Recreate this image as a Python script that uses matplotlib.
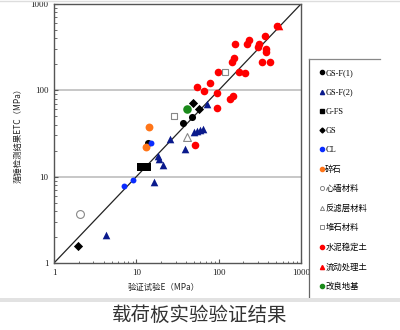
import matplotlib
matplotlib.use("Agg")
import matplotlib.pyplot as plt
from matplotlib.lines import Line2D
from matplotlib.patches import Rectangle

plt.rcParams['font.family'] = ['Liberation Serif', 'Noto Sans CJK SC', 'DejaVu Sans']

# --- data (E from verification test, ETC from drop hammer) ---
gsf1_x = [48, 37, 13.7]
gsf1_y = [48.8, 41.6, 24.3]

gsf2_x = [72, 50, 55, 59, 64, 25.7, 39, 18.5, 19, 21, 16.4, 4.3]
gsf2_y = [70, 33, 33.5, 35, 36, 27, 21, 17.2, 16.1, 13.8, 8.75, 2.11]

gfs_x = [11.4, 13.3]
gfs_y = [13.1, 13.1]

gs_x = [48.6, 58, 1.97]
gs_y = [72, 60, 1.57]

cl_x = [15.1, 9.0, 7.1]
cl_y = [24.3, 9.16, 7.8]

gravel_x = [14.4, 13.1]
gravel_y = [38, 21.8]

core_x = [2.07]
core_y = [3.67]

filter_x = [40.7]
filter_y = [28.5]

rockfill_x = [28.7, 120]
rockfill_y = [51, 163]

cement_x = [505, 366, 234, 219, 160, 305, 297, 377, 377, 154, 145, 340, 421,
            99, 178, 208, 79, 55, 67, 96, 149, 137, 95, 52]
cement_y = [553, 430, 384, 342, 342, 340, 318, 298, 281, 234, 215, 212, 215,
            165, 165, 158, 121, 108, 99, 93, 85, 79, 63, 23]

fluid_x = [542]
fluid_y = [557]

improved_x = [41.3]
improved_y = [60.6]

fig = plt.figure(figsize=(4.0, 3.3), dpi=100)
fig.patch.set_facecolor("white")
ax = fig.add_axes([0.135, 0.203, 0.6175, 0.785])

ax.set_xscale("log")
ax.set_yscale("log")
ax.set_xlim(1, 1000)
ax.set_ylim(1, 1000)

# gridlines at the major y decades only
for yv in (10, 100):
    ax.axhline(yv, color="#b8b8b8", lw=1.1, zorder=1)
ax.plot([1, 1000], [1, 1000], color="#222222", lw=0.9, zorder=2)

ms = 30
ax.scatter(cement_x, cement_y, s=ms, c="#ff0000", marker="o", lw=0, zorder=3)
ax.scatter(fluid_x, fluid_y, s=ms, c="#ff0000", marker="^", lw=0, zorder=3)
ax.scatter(gsf2_x, gsf2_y, s=ms, c="#0a1a8c", marker="^", lw=0, zorder=4)
ax.scatter(gsf1_x, gsf1_y, s=26, c="black", marker="o", lw=0, zorder=4)
ax.scatter(gfs_x, gfs_y, s=26, c="black", marker="s", lw=0, zorder=4)
ax.scatter(gs_x, gs_y, s=22, c="black", marker="D", lw=0, zorder=4)
ax.scatter(cl_x, cl_y, s=18, c="#0a2cff", marker="o", lw=0, zorder=5)
ax.scatter(gravel_x, gravel_y, s=32, c="#ff7518", marker="o", lw=0, zorder=4)
ax.scatter(core_x, core_y, s=32, facecolors="white", edgecolors="#888888", marker="o", lw=0.8, zorder=4)
ax.scatter(filter_x, filter_y, s=32, facecolors="white", edgecolors="#888888", marker="^", lw=0.8, zorder=4)
ax.scatter(rockfill_x, rockfill_y, s=22, facecolors="white", edgecolors="#888888", marker="s", lw=0.8, zorder=4)
ax.scatter(improved_x, improved_y, s=38, c="#1a8a1a", marker="o", lw=0, zorder=4)

for sp in ax.spines.values():
    sp.set_color("#555555")
    sp.set_linewidth(1.0)
ax.tick_params(which="both", direction="in", colors="#555555", labelcolor="#222222",
               labelsize=6.5, pad=4)
ax.tick_params(which="major", length=3)
ax.tick_params(which="minor", length=1.8)
ax.set_xticks([1, 10, 100, 1000])
ax.set_xticklabels(["1", "10", "100", "1000"])
ax.set_yticks([1, 10, 100, 1000])
ax.set_yticklabels(["1", "10", "100", "1000"])

ax.set_ylabel("落锤检测结果ETC（MPa）", fontsize=6, family=["Noto Sans CJK SC", "DejaVu Sans"],
              labelpad=6, color="#222222")
fig.text(0.41, 0.128, "验证试验E（MPa）", fontsize=6, family=["Noto Sans CJK SC", "DejaVu Sans"],
         ha="center", va="center", color="#222222")

# legend panel (white block covering the right side, border on left and top)
fig.add_artist(Rectangle((0.772, 0.10), 0.25, 0.72, transform=fig.transFigure,
                         facecolor="white", edgecolor="none", zorder=5))
fig.add_artist(Line2D([0.772, 0.772], [0.10, 0.821], transform=fig.transFigure,
                      color="#666666", lw=0.9, zorder=6))
fig.add_artist(Line2D([0.772, 0.95], [0.821, 0.821], transform=fig.transFigure,
                      color="#888888", lw=0.9, zorder=6))

handles = [
    Line2D([0], [0], ls="", marker="o", ms=3, mfc="black", mec="black", label="GS-F(1)"),
    Line2D([0], [0], ls="", marker="^", ms=3, mfc="#0a1a8c", mec="#0a1a8c", label="GS-F(2)"),
    Line2D([0], [0], ls="", marker="s", ms=3, mfc="black", mec="black", label="G-FS"),
    Line2D([0], [0], ls="", marker="D", ms=2.5, mfc="black", mec="black", label="GS"),
    Line2D([0], [0], ls="", marker="o", ms=3, mfc="#0a2cff", mec="#0a2cff", label="CL"),
    Line2D([0], [0], ls="", marker="o", ms=3, mfc="#ff7518", mec="#ff7518", label="碎石"),
    Line2D([0], [0], ls="", marker="o", ms=3, mfc="white", mec="#777777", mew=0.6, label="心墙材料"),
    Line2D([0], [0], ls="", marker="^", ms=3, mfc="white", mec="#777777", mew=0.6, label="反滤层材料"),
    Line2D([0], [0], ls="", marker="s", ms=3, mfc="white", mec="#777777", mew=0.6, label="堆石材料"),
    Line2D([0], [0], ls="", marker="o", ms=3, mfc="#ff0000", mec="#ff0000", label="水泥稳定土"),
    Line2D([0], [0], ls="", marker="^", ms=3, mfc="#ff0000", mec="#ff0000", label="流动处理土"),
    Line2D([0], [0], ls="", marker="o", ms=3, mfc="#1a8a1a", mec="#1a8a1a", label="改良地基"),
]
leg = fig.legend(handles=handles, loc="upper left", bbox_to_anchor=(0.785, 0.808),
                 frameon=False, handlelength=0.5, handletextpad=0.15,
                 labelspacing=1.35, borderpad=0.2,
                 prop={"family": ["Liberation Serif", "Noto Sans CJK SC"], "size": 6})
leg.set_zorder(7)

# separator band and caption
fig.add_artist(Rectangle((0, 0.085), 1, 0.012, transform=fig.transFigure,
                         facecolor="#e2e2e2", edgecolor="none", zorder=6))
fig.add_artist(Line2D([0, 1], [0.997, 0.997], transform=fig.transFigure,
                      color="#dddddd", lw=1.0, zorder=6))
fig.text(0.5, 0.012, "载荷板实验验证结果", fontsize=14,
         family=["Noto Sans CJK SC", "DejaVu Sans"], ha="center", va="bottom", color="#333333")

fig.savefig("out.png", dpi=100)
